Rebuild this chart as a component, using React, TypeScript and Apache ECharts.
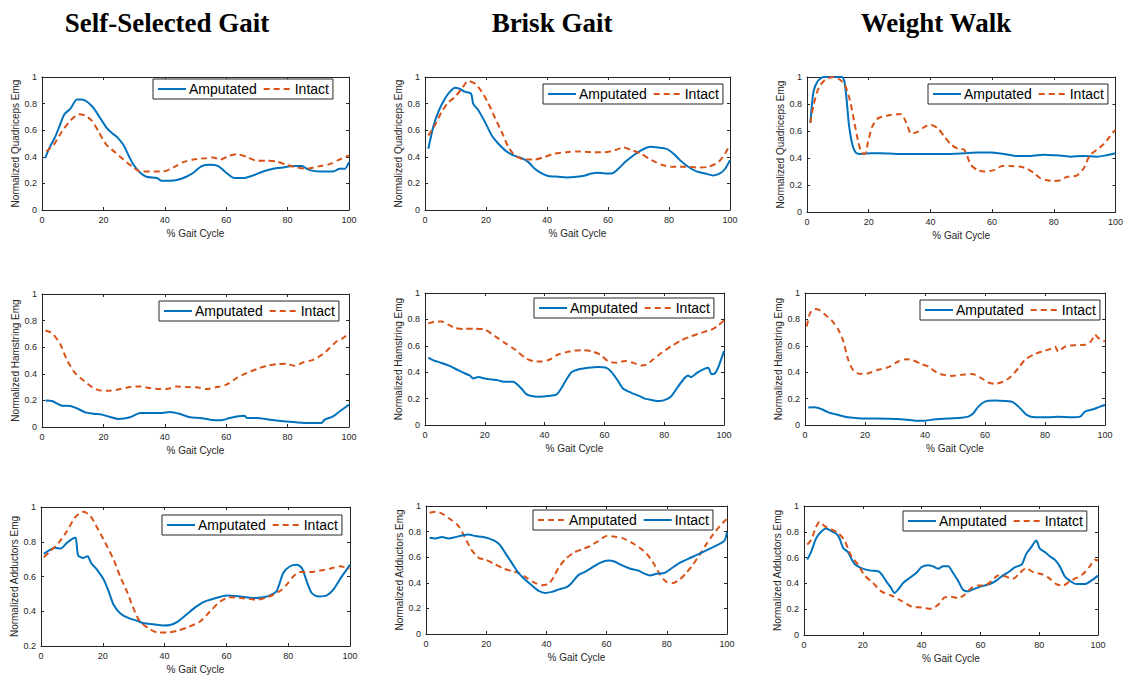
import React, { useEffect, useRef } from "react";
import * as echarts from "echarts";

type Pt = [number, number];

const BLUE = "#0072BD";
const ORANGE = "#D95319";
const AXIS = "#262626";
const SANS = '"Liberation Sans", Arial, Helvetica, sans-serif';
const SERIF = '"Liberation Serif", "Times New Roman", serif';

const columnTitles = ["Self-Selected Gait", "Brisk Gait", "Weight Walk"];
const xTicks = { min: 0, max: 100, interval: 20 };
const xName = "% Gait Cycle";
const yNames = ["Normalized Quadriceps Emg", "Normalized Hamstring Emg", "Normalized Adductors Emg"];

// ---- Quadriceps ----
const quadSelfAmp: Pt[] = [[1,0.39],[2.7,0.48],[4.3,0.55],[5.7,0.63],[7.3,0.72],[9.2,0.76],[11.4,0.83],[13,0.83],[16.3,0.78],[19,0.69],[21,0.62],[22.7,0.58],[24.4,0.55],[26.5,0.49],[28.2,0.41],[29.8,0.34],[32,0.28],[34,0.25],[37.4,0.24],[39,0.22],[41.7,0.22],[43.9,0.225],[47,0.25],[49.3,0.28],[52,0.33],[54.7,0.34],[57.4,0.33],[60,0.28],[62.8,0.24],[65.5,0.24],[68.8,0.26],[72,0.29],[75.3,0.31],[78.5,0.32],[81.8,0.33],[84.5,0.33],[87.2,0.3],[90.5,0.29],[94.8,0.29],[97,0.31],[98.6,0.31],[100,0.36]];
const quadSelfInt: Pt[] = [[1.4,0.44],[3.8,0.49],[6.5,0.59],[9.2,0.67],[11.9,0.72],[14,0.71],[16.3,0.67],[18.4,0.59],[21,0.49],[24,0.43],[26.5,0.38],[29.2,0.33],[32,0.29],[35.2,0.29],[39.5,0.29],[42.8,0.32],[46,0.36],[49.3,0.38],[53.6,0.39],[55.8,0.395],[58,0.38],[61.2,0.41],[63.4,0.42],[66.6,0.4],[70,0.37],[73,0.37],[76.4,0.365],[79.6,0.34],[83,0.32],[86,0.31],[90.5,0.33],[93.7,0.345],[97,0.38],[100,0.41]];
const quadBriskAmp: Pt[] = [[1.1,0.46],[2.7,0.625],[4.4,0.74],[6.6,0.84],[8.2,0.89],[9.8,0.92],[11.5,0.91],[13,0.89],[15.1,0.875],[15.8,0.8],[17.5,0.75],[19.7,0.66],[21.9,0.56],[24,0.5],[26.2,0.45],[29,0.41],[31.7,0.39],[33.9,0.36],[36,0.31],[38.3,0.275],[40.4,0.255],[43.7,0.25],[46.4,0.245],[49.7,0.25],[52.5,0.26],[54.6,0.275],[56.8,0.28],[59,0.275],[61.2,0.275],[63.4,0.31],[65.6,0.36],[68.3,0.41],[71,0.45],[73.8,0.475],[76.5,0.47],[79.2,0.46],[81.4,0.425],[83.6,0.375],[86.3,0.325],[89,0.29],[91.8,0.275],[94.5,0.26],[96.7,0.275],[98.4,0.31],[100,0.375]];
const quadBriskInt: Pt[] = [[1.1,0.56],[3.3,0.64],[5.5,0.74],[7.7,0.81],[9.8,0.85],[12,0.91],[14.2,0.97],[16.4,0.95],[18.6,0.89],[20.8,0.8],[23,0.69],[25.1,0.59],[27.3,0.475],[29.5,0.41],[32.8,0.38],[36,0.38],[39.3,0.4],[42.6,0.425],[46.4,0.435],[50.3,0.44],[54.6,0.435],[59,0.435],[62.3,0.45],[65,0.47],[67.8,0.45],[71,0.42],[74.3,0.375],[77.6,0.34],[80.9,0.325],[85.2,0.325],[89.6,0.32],[92.9,0.325],[96.2,0.36],[98.4,0.425],[99.5,0.47]];
const quadWeightAmp: Pt[] = [[1.1,0.66],[2.1,0.89],[3.5,0.97],[5.4,1.0],[8,1.0],[11.3,1.0],[12.1,0.97],[12.9,0.82],[13.6,0.645],[14.7,0.5],[15.8,0.44],[17.2,0.43],[20.9,0.435],[24.1,0.435],[29.5,0.43],[34.9,0.43],[40.2,0.43],[45.6,0.43],[51,0.435],[55.3,0.44],[59.5,0.44],[63.8,0.43],[68.1,0.415],[72.4,0.415],[76.7,0.425],[81,0.42],[85.3,0.41],[89.6,0.415],[93.9,0.41],[97.1,0.42],[100,0.435]];
const quadWeightInt: Pt[] = [[1.1,0.66],[2.1,0.79],[3.8,0.92],[5.9,0.98],[8.6,1.0],[10.7,0.98],[12.3,0.94],[14,0.82],[15.3,0.67],[16.6,0.52],[17.7,0.44],[18.8,0.43],[19.8,0.52],[21.1,0.63],[23.1,0.695],[26.3,0.715],[29.5,0.725],[30.6,0.725],[32.2,0.66],[33.8,0.58],[36,0.595],[38.1,0.63],[40.2,0.645],[42.4,0.62],[44.5,0.56],[46.7,0.5],[48.8,0.47],[51,0.46],[53.1,0.35],[55.3,0.31],[57.4,0.3],[60.6,0.31],[63.3,0.34],[66,0.34],[69.2,0.335],[71.4,0.32],[73.5,0.29],[75.6,0.25],[77.8,0.235],[79.9,0.23],[82.1,0.235],[84.2,0.26],[87.4,0.27],[89.6,0.32],[91.7,0.42],[93.9,0.46],[96,0.5],[98.2,0.56],[100,0.61]];

// ---- Hamstring ----
const hamSelfAmp: Pt[] = [[1.1,0.2],[3.3,0.195],[6.5,0.16],[9.2,0.158],[11.4,0.14],[14.1,0.11],[16.8,0.1],[19.5,0.093],[22.2,0.075],[24.9,0.06],[28.7,0.073],[32,0.105],[35.2,0.105],[38.5,0.105],[41.7,0.113],[45,0.098],[48.2,0.073],[51.5,0.068],[54.7,0.055],[58,0.05],[61.2,0.068],[63.9,0.08],[66,0.085],[66.8,0.068],[69.9,0.068],[74.2,0.055],[78.6,0.043],[82.9,0.035],[87.2,0.03],[91,0.03],[92.1,0.055],[94.8,0.08],[97,0.118],[100,0.168]];
const hamSelfInt: Pt[] = [[1.1,0.725],[3.3,0.705],[6,0.62],[8.1,0.505],[10.8,0.405],[13.5,0.35],[16.3,0.3],[19,0.275],[22.2,0.273],[25.5,0.285],[28.7,0.3],[32,0.305],[35.2,0.293],[38.5,0.285],[40.6,0.285],[43.9,0.305],[47.1,0.3],[50.4,0.298],[53.6,0.285],[56.9,0.3],[60.1,0.318],[63.4,0.368],[66.6,0.405],[69.9,0.435],[73.1,0.46],[76.4,0.473],[79.6,0.475],[82.3,0.46],[85,0.485],[88.3,0.505],[91.5,0.548],[93.7,0.593],[95.9,0.643],[98,0.668],[100,0.705]];
const hamBriskAmp: Pt[] = [[1.1,0.51],[2.8,0.49],[5.6,0.47],[8.4,0.446],[11.1,0.415],[13.4,0.39],[15,0.375],[16.1,0.353],[17.8,0.363],[20,0.353],[22.3,0.345],[24.5,0.338],[26.7,0.327],[29.5,0.327],[30.6,0.312],[32.3,0.275],[34,0.232],[35.6,0.219],[37.9,0.214],[41.2,0.219],[44,0.232],[45.7,0.282],[47.3,0.345],[49,0.4],[51.2,0.42],[54.6,0.433],[57.9,0.44],[60.7,0.433],[62.4,0.4],[64.6,0.332],[66.3,0.275],[69,0.244],[71.8,0.219],[73.5,0.2],[75.7,0.19],[78.5,0.181],[80.7,0.194],[82.4,0.219],[84.6,0.29],[86.9,0.358],[88,0.375],[88.9,0.363],[91.3,0.4],[94.7,0.433],[95.8,0.385],[96.9,0.39],[98,0.433],[100,0.56]];
const hamBriskInt: Pt[] = [[1.1,0.77],[2.8,0.78],[5.6,0.785],[7.8,0.76],[10,0.735],[12.8,0.728],[16.7,0.73],[20,0.723],[23.4,0.673],[26.7,0.622],[30.1,0.572],[33.4,0.51],[36.2,0.484],[39,0.481],[41.8,0.496],[44.5,0.534],[47.3,0.552],[50.1,0.564],[52.9,0.567],[55.7,0.559],[58.5,0.534],[61.2,0.484],[64,0.471],[66.8,0.484],[69.6,0.471],[72.4,0.451],[74,0.458],[76.3,0.496],[79.1,0.547],[82.4,0.597],[85.7,0.642],[89.1,0.673],[92.4,0.698],[95.8,0.723],[98,0.753],[100,0.793]];
const hamWeightAmp: Pt[] = [[1.1,0.132],[3.3,0.134],[5.6,0.119],[7.8,0.096],[11.1,0.076],[14.4,0.058],[18.9,0.05],[23.3,0.05],[27.8,0.048],[32.2,0.043],[36.7,0.033],[40,0.033],[43.3,0.043],[47.8,0.05],[52.2,0.055],[54.4,0.063],[56.1,0.089],[57.8,0.139],[60,0.177],[63.3,0.185],[66.7,0.182],[69.4,0.172],[71.7,0.127],[73.9,0.076],[76.7,0.058],[81.1,0.058],[84.4,0.063],[88.9,0.058],[91.7,0.063],[93.3,0.101],[96.1,0.119],[98.3,0.139],[100,0.152]];
const hamWeightInt: Pt[] = [[0.6,0.747],[1.7,0.848],[3.3,0.878],[5,0.868],[6.7,0.835],[8.9,0.792],[11.1,0.722],[12.8,0.633],[14.4,0.494],[16.1,0.413],[18.3,0.387],[21.1,0.392],[24.4,0.418],[27.8,0.438],[31.1,0.481],[33.9,0.499],[36.1,0.489],[38.9,0.461],[41.1,0.443],[43.9,0.397],[46.1,0.38],[48.9,0.372],[52.2,0.38],[55.6,0.387],[58.9,0.354],[61.1,0.322],[63.3,0.311],[66.1,0.329],[68.3,0.36],[71.1,0.43],[73.3,0.494],[76.1,0.532],[78.9,0.557],[81.7,0.575],[83.3,0.595],[84.4,0.557],[86.7,0.595],[90,0.605],[93.3,0.608],[95.3,0.633],[96.7,0.684],[97.8,0.658],[100,0.633]];

// ---- Adductors ----
const addSelfAmp: Pt[] = [[0.9,0.73],[2.5,0.749],[4.6,0.765],[6.3,0.761],[8.4,0.794],[10.1,0.817],[11.2,0.823],[12,0.722],[13.7,0.707],[15.1,0.717],[16.2,0.678],[18.1,0.64],[20.3,0.582],[21.9,0.514],[23.5,0.437],[25.6,0.389],[28.4,0.36],[31.1,0.345],[33.2,0.331],[36.4,0.325],[39.7,0.318],[41.8,0.321],[44,0.337],[47.2,0.383],[49.9,0.422],[52.6,0.453],[55.8,0.472],[60.1,0.491],[64.4,0.485],[68.8,0.476],[72,0.481],[74.1,0.491],[76.3,0.518],[78.4,0.62],[80.6,0.659],[82.8,0.668],[84.4,0.649],[86,0.572],[87.6,0.505],[89.8,0.485],[92.5,0.491],[94.6,0.524],[96.8,0.586],[98.9,0.64],[100,0.668]];
const addSelfInt: Pt[] = [[0.9,0.711],[3,0.746],[5.7,0.794],[8.4,0.861],[11.1,0.942],[13.8,0.973],[16,0.948],[18.1,0.884],[20.8,0.794],[23.5,0.697],[25.6,0.601],[27.8,0.514],[29.9,0.418],[32,0.341],[34.8,0.302],[37.5,0.279],[40.7,0.277],[44,0.287],[47.2,0.306],[51.5,0.341],[54.7,0.399],[58,0.456],[61.2,0.48],[64.4,0.476],[67.7,0.47],[69.8,0.466],[72.5,0.476],[75.2,0.495],[77.9,0.524],[79.5,0.553],[81.7,0.601],[83.8,0.626],[87.1,0.626],[90.3,0.634],[93.5,0.645],[96.8,0.659],[99.8,0.645]];
// Brisk adductors: the dashed orange curve is labelled "Amputated", the solid blue one "Intact"
const addBriskDashed: Pt[] = [[1.2,0.948],[3.1,0.956],[5.3,0.94],[8.1,0.896],[10.8,0.843],[13,0.752],[15,0.661],[17.5,0.595],[19.7,0.582],[23,0.543],[25.7,0.512],[28.5,0.491],[30.7,0.478],[33.5,0.439],[36.2,0.399],[38.5,0.381],[40.7,0.392],[42.3,0.439],[44,0.517],[46.2,0.582],[49,0.634],[51.7,0.661],[54.5,0.687],[57.2,0.726],[60,0.765],[62.8,0.76],[65.5,0.747],[68.3,0.713],[71,0.674],[73.3,0.627],[75.5,0.556],[77.7,0.465],[79.9,0.407],[82.1,0.399],[84.3,0.426],[86.5,0.478],[88.7,0.543],[91,0.621],[93.1,0.7],[95.4,0.778],[97.6,0.843],[99.8,0.896]];
const addBriskSolid: Pt[] = [[1.2,0.752],[3.1,0.747],[5.3,0.757],[7.5,0.747],[9.7,0.757],[12,0.77],[14.1,0.778],[16.4,0.765],[18.6,0.76],[20.8,0.747],[23,0.726],[24.6,0.695],[26.3,0.634],[28.5,0.556],[30.7,0.478],[32.9,0.426],[35.1,0.381],[37.3,0.339],[39.6,0.321],[41.8,0.329],[44,0.347],[46.7,0.366],[48.4,0.399],[50.6,0.46],[52.8,0.486],[55,0.517],[57.8,0.556],[60.6,0.574],[62.8,0.564],[65,0.538],[67.7,0.512],[70.5,0.496],[72.7,0.47],[74.4,0.457],[76.6,0.47],[79.3,0.478],[81.5,0.512],[84.3,0.556],[87.1,0.587],[89.8,0.616],[92.6,0.648],[95.4,0.679],[97.6,0.705],[99.2,0.731],[100,0.796]];
const addWeightAmp: Pt[] = [[1.1,0.584],[2.5,0.649],[4.2,0.753],[6,0.805],[7.6,0.826],[9.3,0.805],[11,0.784],[12.1,0.748],[13.3,0.675],[14.9,0.644],[16.3,0.584],[17.2,0.551],[19.5,0.519],[22.3,0.501],[25.2,0.494],[26.3,0.473],[28,0.416],[29.5,0.369],[30.8,0.325],[32,0.351],[33.7,0.403],[35.9,0.442],[38.2,0.481],[39.9,0.525],[42.2,0.54],[43.9,0.532],[45.6,0.514],[47.3,0.532],[49,0.532],[50.7,0.481],[52.4,0.421],[54.1,0.351],[55.8,0.338],[58,0.358],[60.3,0.377],[63.2,0.395],[65.4,0.421],[67.7,0.462],[70,0.494],[71.7,0.525],[74,0.545],[75.6,0.629],[77.3,0.681],[79,0.732],[80.2,0.67],[81.9,0.644],[83.6,0.61],[85.3,0.584],[87,0.532],[88.7,0.455],[90.4,0.421],[92.6,0.395],[95.5,0.395],[97.7,0.421],[100,0.46]];
const addWeightInt: Pt[] = [[1.1,0.701],[2.5,0.74],[3.9,0.826],[5.3,0.878],[7,0.844],[9.3,0.818],[11.6,0.792],[13.8,0.732],[16.1,0.61],[18.4,0.545],[20.6,0.462],[23.5,0.403],[26.3,0.338],[29.7,0.306],[33.1,0.265],[36.5,0.221],[39.9,0.213],[43.3,0.203],[45.6,0.234],[47.8,0.291],[50.1,0.296],[52.4,0.286],[54.6,0.312],[56.9,0.364],[59.2,0.384],[61.4,0.384],[63.7,0.416],[66,0.462],[68.3,0.455],[71.1,0.436],[73.4,0.481],[75.6,0.519],[77.9,0.488],[80.7,0.473],[83,0.447],[85.8,0.395],[88.1,0.384],[90.4,0.416],[92.6,0.442],[94.9,0.473],[97.2,0.532],[98.9,0.584],[100,0.577]];

type Line = { label: string; data: Pt[]; color: string; dashed: boolean };
type Panel = {
  grid: { left: number; top: number; width: number; height: number };
  legend: { left: number; top: number };
  yName: string;
  yMin: number;
  lines: Line[];
};

const amp = (d: Pt[], label = "Amputated"): Line => ({ label, data: d, color: BLUE, dashed: false });
const intc = (d: Pt[], label = "Intact"): Line => ({ label, data: d, color: ORANGE, dashed: true });

const panels: Panel[] = [
  { grid: { left: 42, top: 77, width: 307, height: 133 }, legend: { left: 153, top: 79 }, yName: yNames[0], yMin: 0, lines: [amp(quadSelfAmp), intc(quadSelfInt)] },
  { grid: { left: 425, top: 77, width: 305, height: 133 }, legend: { left: 543, top: 84 }, yName: yNames[0], yMin: 0, lines: [amp(quadBriskAmp), intc(quadBriskInt)] },
  { grid: { left: 807, top: 77, width: 310, height: 135 }, legend: { left: 928, top: 84 }, yName: yNames[0], yMin: 0, lines: [amp(quadWeightAmp), intc(quadWeightInt)] },
  { grid: { left: 42, top: 294, width: 307, height: 133 }, legend: { left: 159, top: 301 }, yName: yNames[1], yMin: 0, lines: [amp(hamSelfAmp), intc(hamSelfInt)] },
  { grid: { left: 425, top: 293, width: 299, height: 132 }, legend: { left: 534, top: 298 }, yName: yNames[1], yMin: 0, lines: [amp(hamBriskAmp), intc(hamBriskInt)] },
  { grid: { left: 805, top: 293, width: 300, height: 132 }, legend: { left: 920, top: 300 }, yName: yNames[1], yMin: 0, lines: [amp(hamWeightAmp), intc(hamWeightInt)] },
  { grid: { left: 41, top: 507, width: 309, height: 139 }, legend: { left: 162, top: 515 }, yName: yNames[2], yMin: 0.2, lines: [amp(addSelfAmp), intc(addSelfInt)] },
  { grid: { left: 426, top: 506, width: 301, height: 128 }, legend: { left: 533, top: 510 }, yName: yNames[2], yMin: 0, lines: [{ label: "Amputated", data: addBriskDashed, color: ORANGE, dashed: true }, { label: "Intact", data: addBriskSolid, color: BLUE, dashed: false }] },
  { grid: { left: 804, top: 506, width: 294, height: 129 }, legend: { left: 903, top: 511 }, yName: yNames[2], yMin: 0, lines: [amp(addWeightAmp), intc(addWeightInt, "Intatct")] },
];

const titleCenters = [167, 552, 936];

function buildOption() {
  const grid: any[] = [];
  const xAxis: any[] = [];
  const yAxis: any[] = [];
  const series: any[] = [];
  const legend: any[] = [];
  const labelMap: Record<string, string> = {};

  const axisLine = { show: true, onZero: false, lineStyle: { color: AXIS, width: 1 } };
  const axisTick = { show: true, inside: true, length: 3, lineStyle: { color: AXIS } };

  panels.forEach((p, i) => {
    grid.push({ ...p.grid, containLabel: false });
    xAxis.push({
      gridIndex: i, type: "value", position: "bottom", ...xTicks,
      name: xName, nameLocation: "middle", nameGap: 18,
      nameTextStyle: { fontSize: 10, color: AXIS, fontFamily: SANS },
      axisLine, axisTick,
      axisLabel: { fontSize: 9, color: AXIS, margin: 5, fontFamily: SANS },
      splitLine: { show: false },
    });
    xAxis.push({
      gridIndex: i, type: "value", position: "top", ...xTicks,
      axisLine, axisTick, axisLabel: { show: false }, splitLine: { show: false },
    });
    yAxis.push({
      gridIndex: i, type: "value", position: "left", min: p.yMin, max: 1, interval: 0.2,
      name: p.yName, nameLocation: "middle", nameGap: 12, nameRotate: 90,
      nameTextStyle: { fontSize: 10, color: AXIS, fontFamily: SANS },
      axisLine, axisTick,
      axisLabel: { fontSize: 9, color: AXIS, margin: 5, fontFamily: SANS },
      splitLine: { show: false },
    });
    yAxis.push({
      gridIndex: i, type: "value", position: "right", min: p.yMin, max: 1, interval: 0.2,
      axisLine, axisTick, axisLabel: { show: false }, splitLine: { show: false },
    });
    const ids: string[] = [];
    p.lines.forEach((ln, k) => {
      const id = `p${i}_${k}`;
      ids.push(id);
      labelMap[id] = ln.label;
      series.push({
        type: "line", name: id, xAxisIndex: 2 * i, yAxisIndex: 2 * i,
        data: ln.data, symbol: "none", showSymbol: false, smooth: 0.25,
        itemStyle: { color: ln.color },
        lineStyle: { color: ln.color, width: 2, type: ln.dashed ? [6, 4] : "solid" },
        z: 2 + k,
      });
    });
    legend.push({
      left: p.legend.left, top: p.legend.top, orient: "horizontal",
      data: ids, selectedMode: false,
      formatter: (n: string) => labelMap[n] ?? n,
      itemWidth: 28, itemHeight: 12, itemGap: 6,
      padding: [3, 4, 3, 4],
      itemStyle: { opacity: 0 },
      borderColor: AXIS, borderWidth: 1, borderRadius: 0, backgroundColor: "#ffffff",
      textStyle: { fontSize: 14, color: "#000", fontFamily: SANS, padding: [0, 0, 0, -2] },
    });
  });

  const graphic = columnTitles.map((t, i) => ({
    type: "text", x: titleCenters[i], y: 9,
    style: {
      text: t, fill: "#000", textAlign: "center", textVerticalAlign: "top",
      font: `bold 27px ${SERIF}`,
    },
  }));

  return {
    animation: false,
    backgroundColor: "#ffffff",
    textStyle: { fontFamily: SANS },
    grid, xAxis, yAxis, series, legend, graphic,
  };
}

export default function App() {
  const ref = useRef<HTMLDivElement>(null);
  useEffect(() => {
    if (!ref.current) return;
    const chart = echarts.init(ref.current, undefined, { renderer: "svg" });
    chart.setOption(buildOption() as any);
    return () => chart.dispose();
  }, []);
  return (
    <div
      ref={ref}
      style={{ position: "fixed", left: 0, top: 0, width: 1126, height: 675, background: "#fff" }}
    />
  );
}
